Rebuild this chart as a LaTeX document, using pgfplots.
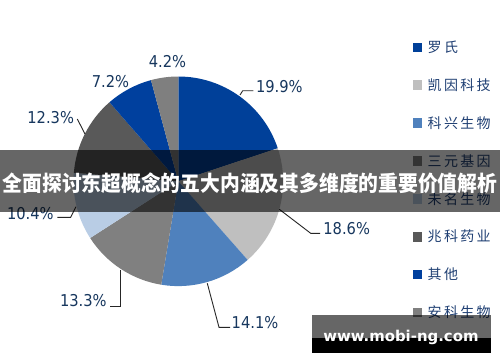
\documentclass[border=0pt]{standalone}
\usepackage{fontspec}
\usepackage{graphicx}
\usepackage{pgfplots}
\pgfplotsset{compat=1.18}
\setmainfont{DejaVu Sans}
\newfontfamily\labfont{DejaVu Sans Condensed}
\newfontfamily\cjk{Noto Sans CJK SC}
\definecolor{cluo}{RGB}{0,64,153}
\definecolor{ckai}{RGB}{191,191,191}
\definecolor{cke}{RGB}{79,129,189}
\definecolor{csan}{RGB}{128,128,128}
\definecolor{cwei}{RGB}{185,205,229}
\definecolor{czhao}{RGB}{89,89,89}
\definecolor{cqi}{RGB}{0,64,158}
\definecolor{can}{RGB}{127,127,127}
\definecolor{labc}{RGB}{23,55,94}
\definecolor{legc}{RGB}{31,63,115}
\gdef\cumang{90}
\begin{document}
\begin{tikzpicture}
\begin{axis}[width=500pt,height=362pt,scale only axis,
  xmin=0,xmax=500,ymin=0,ymax=362,y dir=reverse,hide axis,clip=false]
\fill[white] (axis cs:0,0) rectangle (axis cs:500,362);
% pie slices: share in percent / colour, clockwise from 12 o'clock
\foreach \v/\c in {19.9/cluo,18.6/ckai,14.1/cke,13.3/csan,10.4/cwei,12.3/czhao,7.2/cqi,4.2/can}{
  \pgfmathsetmacro\endang{\cumang-3.6*\v}
  \edef\temp{\noexpand\fill[\c] (axis cs:178.3,181.3) -- ++(\cumang:104.8pt) arc[start angle=\cumang, end angle=\endang, radius=104.8pt] -- cycle;}
  \temp
  \xdef\cumang{\endang}
}
% leader lines
\draw[line width=0.9pt,black!85] (axis cs:77.3,119) -- (axis cs:85,134);
\draw[line width=0.9pt,black!85] (axis cs:240,95) -- (axis cs:242.7,90.7) -- (axis cs:253.3,90.7);
\draw[line width=0.9pt,black!85] (axis cs:279.3,209.3) -- (axis cs:310.7,233.3) -- (axis cs:320,233.3);
\draw[line width=0.9pt,black!85] (axis cs:207.3,283.3) -- (axis cs:219,327.3) -- (axis cs:230,327.3);
\draw[line width=0.9pt,black!85] (axis cs:120.7,270) -- (axis cs:120.7,306) -- (axis cs:110,306);
\draw[line width=0.9pt,black!85] (axis cs:76,206.7) -- (axis cs:70.7,217.3) -- (axis cs:57.3,217.3);
% percentage labels
\begin{scope}[every node/.style={inner sep=0pt,text=labc,font=\labfont\fontsize{16.3}{18}\selectfont}]
\node at (axis cs:279.3,86.5) {19.9\%};
\node at (axis cs:346.7,228.8) {18.6\%};
\node at (axis cs:255,322.5) {14.1\%};
\node at (axis cs:83.3,300.8) {13.3\%};
\node at (axis cs:30.3,213.3) {10.4\%};
\node at (axis cs:50.7,117.5) {12.3\%};
\node at (axis cs:110.5,81.7) {7.2\%};
\node at (axis cs:167.5,62) {4.2\%};
\end{scope}
% legend
\begin{scope}[every node/.style={inner sep=0pt,anchor=west,text=legc,font=\cjk\fontsize{14}{16}\selectfont}]
\fill[cluo]  (axis cs:412.7,42.7) rectangle (axis cs:422.2,52.2);
\node at (axis cs:427.5,47.3) {罗\kern2.3pt 氏};
\fill[ckai]  (axis cs:412.7,80.3) rectangle (axis cs:422.2,89.8);
\node at (axis cs:427.5,85) {凯\kern2.3pt 因\kern2.3pt 科\kern2.3pt 技};
\fill[cke]   (axis cs:412.7,118) rectangle (axis cs:422.2,127.5);
\node at (axis cs:427.5,122.7) {科\kern2.3pt 兴\kern2.3pt 生\kern2.3pt 物};
\fill[csan]  (axis cs:412.7,156) rectangle (axis cs:422.2,165.5);
\node at (axis cs:427.5,160.7) {三\kern2.3pt 元\kern2.3pt 基\kern2.3pt 因};
\fill[cwei]  (axis cs:412.7,194.3) rectangle (axis cs:422.2,203.8);
\node at (axis cs:427.5,199) {未\kern2.3pt 名\kern2.3pt 生\kern2.3pt 物};
\fill[czhao] (axis cs:412.7,232) rectangle (axis cs:422.2,241.5);
\node at (axis cs:427.5,236.7) {兆\kern2.3pt 科\kern2.3pt 药\kern2.3pt 业};
\fill[cqi]   (axis cs:412.7,269.6) rectangle (axis cs:422.2,279.1);
\node at (axis cs:427.5,274.3) {其\kern2.3pt 他};
\fill[can]   (axis cs:412.7,307.6) rectangle (axis cs:422.2,317.1);
\node at (axis cs:427.5,312.3) {安\kern2.3pt 科\kern2.3pt 生\kern2.3pt 物};
\end{scope}
% title band
\fill[black,opacity=0.6] (axis cs:0,150) rectangle (axis cs:500,212.3);
\node[inner sep=0pt,text=white,font=\cjk\bfseries\fontsize{21.5}{24}\selectfont] at (axis cs:250,183.5)
  {\scalebox{0.92}[1]{全面探讨东超概念的五大内涵及其多维度的重要价值解析}};
% watermark
\fill[black,opacity=0.6] (axis cs:312.3,315) rectangle (axis cs:491,337.7);
\fill[black] (axis cs:312.3,337.7) rectangle (axis cs:491,352.7);
\node[inner sep=0pt,anchor=base,text=white,font=\bfseries\fontsize{14.9}{16}\selectfont] at (axis cs:400.9,341.7) {www.mobi-ng.com};
\end{axis}
\end{tikzpicture}
\end{document}
